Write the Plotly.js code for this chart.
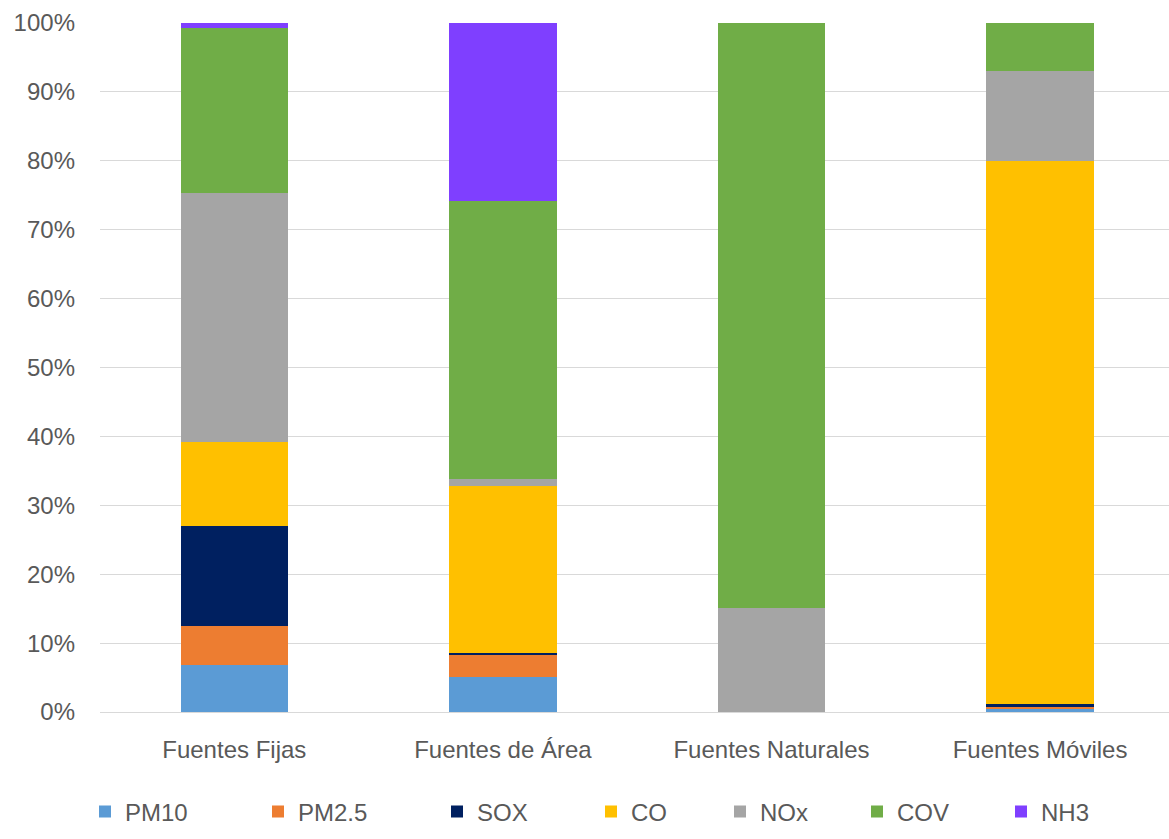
<!DOCTYPE html>
<html>
<head>
<meta charset="utf-8">
<script src="https://cdn.plot.ly/plotly-3.0.1.min.js"></script>
<style>
html,body{margin:0;padding:0;background:#fff;}
#chart{width:1169px;height:839px;}
</style>
</head>
<body>
<div id="chart"></div>
<script>
const categories = ["Fuentes Fijas", "Fuentes de Área", "Fuentes Naturales", "Fuentes Móviles"];
const seriesNames = ["PM10", "PM2.5", "SOX", "CO", "NOx", "COV", "NH3"];
const PM10 = [6.8, 5.1, 0, 0.4];
const PM25 = [5.7, 3.2, 0, 0.3];
const SOX  = [14.5, 0.3, 0, 0.4];
const CO   = [12.2, 24.2, 0, 78.9];
const NOx  = [36.1, 1.0, 15.1, 13.0];
const COV  = [24.0, 40.4, 84.9, 7.0];
const NH3  = [0.7, 25.8, 0, 0];
const yTickVals = [0, 10, 20, 30, 40, 50, 60, 70, 80, 90, 100];
const yTickText = ["0%", "10%", "20%", "30%", "40%", "50%", "60%", "70%", "80%", "90%", "100%"];

const seriesValues = [PM10, PM25, SOX, CO, NOx, COV, NH3];
const colors = ["#5B9BD5", "#ED7D31", "#002060", "#FFC000", "#A5A5A5", "#70AD47", "#7F3FFF"];
// legend swatch centres measured in the reference (px)
const legendCenters = [108, 281, 460, 614, 743, 880, 1024];

const W = 1169, H = 839;
const font = {family: "'Liberation Sans', Arial, sans-serif", size: 24, color: "#595959"};

const traces = seriesNames.map((name, i) => ({
  type: "bar",
  name: name,
  x: categories,
  y: seriesValues[i],
  marker: {color: colors[i], line: {width: 0}},
  legend: "legend" + (i + 2),
  showlegend: true,
  hoverinfo: "skip"
}));

const layout = {
  width: W, height: H,
  margin: {l: 100, r: 0, t: 23, b: 127},
  paper_bgcolor: "#ffffff",
  plot_bgcolor: "#ffffff",
  barmode: "stack",
  bargap: 0.6,
  font: font,
  showlegend: true,
  xaxis: {
    range: [-0.5, 3.48],
    showgrid: false,
    showline: false,
    zeroline: false,
    ticks: "",
    tickfont: font,
    ticklabelstandoff: 21,
    fixedrange: true
  },
  yaxis: {
    range: [0, 100],
    tickvals: yTickVals,
    ticktext: yTickText,
    showgrid: true,
    gridcolor: "#D9D9D9",
    gridwidth: 1,
    zeroline: true,
    zerolinecolor: "#D9D9D9",
    zerolinewidth: 1,
    showline: false,
    ticks: "",
    tickfont: font,
    ticklabelstandoff: 24,
    fixedrange: true
  }
};

legendCenters.forEach((c, i) => {
  layout["legend" + (i + 2)] = {
    orientation: "h",
    xref: "container", yref: "container",
    x: (c - 23) / W,
    xanchor: "left",
    y: 1 - 812 / H,
    yanchor: "middle",
    bgcolor: "rgba(0,0,0,0)",
    borderwidth: 0,
    font: font,
    itemclick: false,
    itemdoubleclick: false
  };
});

Plotly.newPlot("chart", traces, layout, {displayModeBar: false, staticPlot: true});
</script>
</body>
</html>
